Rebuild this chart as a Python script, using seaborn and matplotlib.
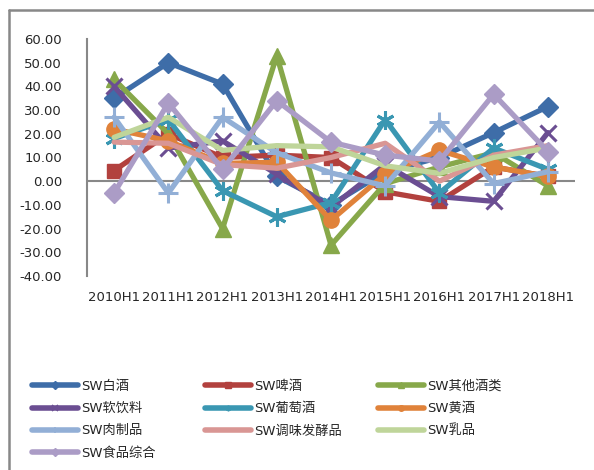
import matplotlib
matplotlib.use("Agg")
import matplotlib.pyplot as plt
import matplotlib.lines as mlines
import seaborn as sns
import pandas as pd
import numpy as np

categories = ["2010H1", "2011H1", "2012H1", "2013H1", "2014H1", "2015H1", "2016H1", "2017H1", "2018H1"]

sw_baijiu = [35, 50, 41, 2, -10, 4, 10, 20.5, 31.5]
sw_pijiu = [4.5, 20, 10, 11, 10, -4.5, -8.5, 6, 2]
sw_qita = [43, 20, -20, 53, -27, -1, 6, 12, -2]
sw_ruanyinliao = [40, 14, 17, 3, -11, 7, -6.5, -8.5, 20.5]
sw_putaojiu = [18, 26, -4, -15, -9, 26, -5, 14, 5]
sw_huangjiu = [22, 17, 7.5, 8, -16.5, 3, 13, 6, 2]
sw_rouzhipin = [27, -5, 27, 12, 3.5, -2, 25, -1, 4]
sw_tiaowei = [16.5, 16, 7, 5.5, 10, 16, 0, 11, 15]
sw_rupin = [18.5, 27, 13, 15, 14.5, 6.5, 3.3, 10, 14]
sw_shipinzonghe = [-5, 33, 5, 34, 16.5, 11, 8.5, 36.7, 12.5]

series_names = ["SW白酒", "SW啤酒", "SW其他酒类", "SW软饮料", "SW葡萄酒", "SW黄酒",
                "SW肉制品", "SW调味发酵品", "SW乳品", "SW食品综合"]
series_values = [sw_baijiu, sw_pijiu, sw_qita, sw_ruanyinliao, sw_putaojiu, sw_huangjiu,
                 sw_rouzhipin, sw_tiaowei, sw_rupin, sw_shipinzonghe]
colors = ["#3E6DA8", "#B2413E", "#87A84A", "#6B4E92", "#3A97B2", "#E0823A",
          "#92AFD6", "#D99694", "#BFD59A", "#AB9CC6"]
markers = ["D", "s", "^", "x", (6, 2, 0), "o", "+", None, None, "D"]
msizes = [10, 10, 12, 11, 13, 11, 14, 0, 0, 10]

sns.set_style("white")
plt.rcParams['font.family'] = ['DejaVu Sans', 'Noto Sans CJK SC']

fig = plt.figure(figsize=(5.94, 4.70), dpi=100)
ax = fig.add_axes([87/594, 1-276/470, (575-87)/594, (276-39)/470])

x_idx = np.arange(len(categories))
for name, vals, c, m, ms in zip(series_names, series_values, colors, markers, msizes):
    df = pd.DataFrame({"x": x_idx, "y": vals})
    kw = dict(color=c, linewidth=3.8, ax=ax, legend=False)
    if m is not None:
        mew = 2.2 if m in ("x", "+", (6, 2, 0)) else 1
        kw.update(marker=m, markersize=ms, markeredgecolor=c, markerfacecolor=c, markeredgewidth=mew)
    sns.lineplot(data=df, x="x", y="y", **kw)

ax.set_xlim(-0.5, len(categories) - 0.5)
ax.set_ylim(-40, 60)
ax.set_yticks(np.arange(-40, 61, 10))
ax.set_yticklabels([f"{v:.2f}" for v in np.arange(-40, 61, 10)], fontsize=9.5)
ax.set_xticks(x_idx)
ax.set_xticklabels(categories, fontsize=9.5)
ax.tick_params(axis='y', length=0, pad=18)
ax.tick_params(axis='x', length=0, pad=11)
ax.set_xlabel("")
ax.set_ylabel("")
for s in ["top", "right", "bottom"]:
    ax.spines[s].set_visible(False)
ax.spines["left"].set_color("#888888")
ax.spines["left"].set_linewidth(1.5)
ax.axhline(0, color="#888888", linewidth=1.5, zorder=0.5)

# outer border (top and left visible)
fig.add_artist(mlines.Line2D([9/594, 1], [1-10/470, 1-10/470], color="#888888", linewidth=1.8, transform=fig.transFigure))
fig.add_artist(mlines.Line2D([9/594, 9/594], [0, 1-10/470], color="#888888", linewidth=1.8, transform=fig.transFigure))

# legend in three columns
handles = []
for name, c, m in zip(series_names, colors, markers):
    if m is None:
        h = mlines.Line2D([], [], color=c, linewidth=4, label=name)
    else:
        mew = 1.2 if m in ("x", "+", (6, 2, 0)) else 1
        h = mlines.Line2D([], [], color=c, linewidth=4, marker=m, markersize=4,
                          markeredgecolor=c, markerfacecolor=c, markeredgewidth=mew, label=name)
    handles.append(h)

col_x = [32, 205, 378]
for ci in range(3):
    hs = handles[ci::3]
    leg = fig.legend(handles=hs, loc="upper left", bbox_to_anchor=(col_x[ci]/594, 1-380/470),
                     frameon=False, fontsize=9.5, handlelength=3.5, handletextpad=0.2,
                     labelspacing=0.70, borderpad=0, borderaxespad=0)

fig.savefig("out.png", dpi=100)
